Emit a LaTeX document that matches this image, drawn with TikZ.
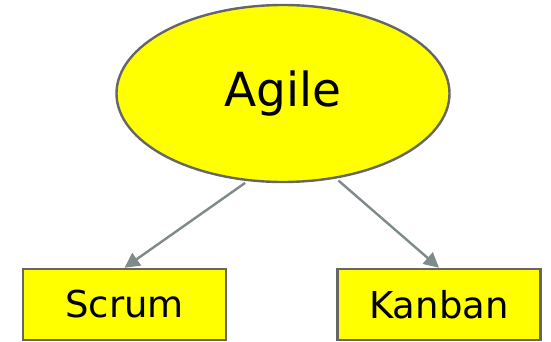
\documentclass[tikz,border=0pt]{standalone}
\usepackage{fontspec}
\setmainfont{DejaVu Sans}
\usetikzlibrary{shapes.geometric,arrows.meta}
\definecolor{edgegray}{HTML}{666666}
\definecolor{arrowgray}{HTML}{7F8A8A}
\definecolor{boxyellow}{HTML}{FFFF00}
\begin{document}
\begin{tikzpicture}[x=1pt,y=-1pt,
  topic/.style={ellipse,draw=edgegray,fill=boxyellow,line width=2.4pt,minimum width=333pt,minimum height=177pt,inner sep=0pt,font=\fontsize{47}{50}\selectfont},
  leaf/.style={rectangle,draw=edgegray,fill=boxyellow,line width=2.4pt,minimum width=203pt,minimum height=71pt,inner sep=0pt,font=\fontsize{37}{40}\selectfont},
  link/.style={draw=arrowgray,line width=2.4pt,-{Triangle[length=15pt,width=15pt]}}]
\useasboundingbox (0,0) rectangle (551,342);
\node[topic] (agile) at (283,93.5) {Agile};
\node[leaf] (scrum) at (124.5,304.5) {Scrum};
\node[leaf] (kanban) at (439,304.5) {Kanban};
\draw[link,shorten <=3pt] (agile.248) -- (scrum.north);
\draw[link,shorten <=3pt] (agile.302) -- (kanban.north);
\end{tikzpicture}
\end{document}
